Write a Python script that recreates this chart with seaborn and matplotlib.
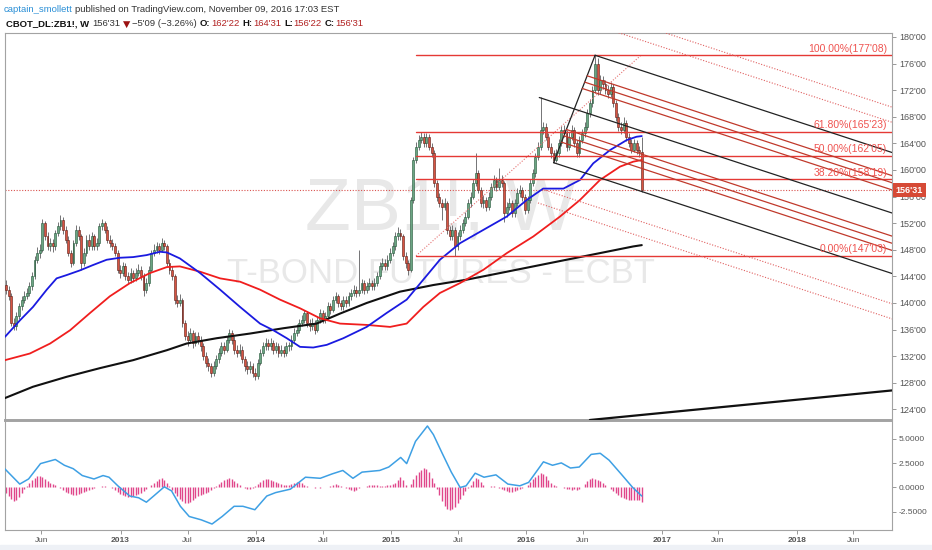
import numpy as np
import pandas as pd
import matplotlib
matplotlib.use("Agg")
import matplotlib.pyplot as plt
import matplotlib.transforms as mtransforms
from matplotlib.patches import Rectangle
import seaborn as sns

sns.set_theme(style="white")
plt.rcParams["font.family"] = ["Liberation Sans", "DejaVu Sans"]

W, H = 932, 550

# ---- weekly bars, CBOT ZB1! ----
last_week = "2016-11-07"
first_open = 142.7
close = [
    142.0, 141.0, 137.0, 136.5, 138.0, 139.5, 140.5, 141.0, 141.5, 142.5,
    144.0, 146.5, 147.5, 148.0, 152.0, 150.0, 148.5, 149.0, 148.5, 150.5,
    151.5, 152.5, 151.0, 149.5, 147.5, 146.0, 149.0, 151.0, 150.0, 146.0,
    147.5, 149.5, 148.5, 150.0, 148.5, 149.0, 151.5, 152.0, 151.0, 149.5,
    149.0, 148.5, 147.5, 145.0, 144.5, 145.5, 144.0, 143.5, 144.5, 143.8,
    144.5, 145.0, 144.0, 142.0, 143.0, 145.0, 147.5, 148.0, 148.5, 148.0,
    149.0, 148.5, 146.0, 145.0, 144.0, 140.5, 140.0, 140.5, 137.0, 135.0,
    134.5, 135.5, 134.0, 135.0, 134.5, 133.5, 132.0, 131.0, 130.5, 129.5,
    130.5, 131.5, 132.5, 133.5, 133.0, 134.5, 135.5, 134.5, 133.0, 132.5,
    133.0, 131.5, 130.5, 130.0, 130.5, 129.5, 129.0, 131.0, 132.5, 133.5,
    134.0, 133.5, 134.0, 133.0, 133.5, 132.5, 133.0, 132.5, 133.5, 133.5,
    134.5, 135.5, 136.0, 137.0, 137.5, 138.5, 137.0, 136.5, 137.0, 136.0,
    137.5, 138.5, 137.5, 138.0, 139.5, 139.0, 140.5, 141.0, 140.0, 139.5,
    140.5, 140.0, 141.0, 141.5, 142.0, 141.5, 142.0, 143.0, 142.0, 142.5,
    143.0, 142.5, 143.0, 144.0, 145.5, 146.0, 145.5, 146.5, 147.5, 148.5,
    150.0, 150.5, 150.0, 147.0, 146.0, 145.0, 155.5, 161.5, 163.5, 164.5,
    165.0, 164.0, 165.0, 163.5, 162.5, 158.0, 156.0, 155.0, 154.5, 155.0,
    151.0, 150.0, 151.0, 148.5, 150.0, 151.0, 152.0, 153.0, 155.0, 156.0,
    158.0, 159.5, 157.0, 155.0, 155.5, 154.5, 156.0, 157.5, 158.5, 157.5,
    158.5, 158.0, 153.5, 154.5, 155.0, 153.5, 155.0, 156.5, 157.0, 156.0,
    154.0, 155.5, 158.0, 159.5, 162.0, 163.5, 166.0, 166.5, 165.0, 163.5,
    162.5, 161.5, 162.5, 164.0, 166.0, 165.5, 163.5, 165.0, 166.0, 164.0,
    162.5, 164.5, 165.5, 166.5, 168.5, 170.0, 172.0, 176.0, 172.0, 173.5,
    173.0, 172.0, 171.5, 172.5, 170.0, 168.0, 166.5, 166.0, 167.0, 165.0,
    164.0, 163.0, 164.0, 163.0, 162.69, 156.97,
]
high = [
    143.4, 142.6, 141.5, 137.8, 138.6, 140.0, 141.0, 141.8, 142.3, 143.2,
    144.6, 147.0, 148.4, 148.8, 152.6, 152.3, 150.6, 149.8, 149.6, 151.0,
    152.2, 153.2, 153.0, 151.6, 150.0, 148.0, 149.5, 151.7, 151.5, 150.4,
    148.2, 150.2, 150.3, 150.6, 150.4, 149.7, 152.0, 152.6, 152.4, 151.5,
    150.2, 149.6, 149.0, 148.0, 145.7, 146.2, 146.0, 144.6, 145.2, 145.0,
    145.3, 145.8, 145.5, 144.5, 143.7, 145.6, 148.0, 148.8, 149.2, 149.0,
    149.7, 149.5, 148.9, 146.6, 145.5, 144.3, 141.2, 141.3, 140.8, 137.5,
    135.8, 136.2, 136.0, 135.7, 135.6, 135.0, 134.0, 132.6, 131.7, 131.0,
    131.2, 132.2, 133.2, 134.2, 134.2, 135.1, 136.1, 136.0, 135.0, 133.7,
    133.8, 133.5, 132.0, 131.2, 131.2, 131.0, 130.2, 131.6, 133.1, 134.2,
    134.8, 134.6, 134.7, 134.5, 134.2, 134.0, 133.7, 133.6, 134.2, 134.2,
    135.2, 136.2, 136.8, 137.6, 138.2, 139.0, 138.8, 137.6, 137.7, 137.4,
    138.1, 139.1, 138.9, 138.7, 140.1, 140.0, 141.1, 141.7, 141.4, 140.5,
    141.1, 141.0, 141.6, 142.1, 142.7, 142.6, 148.0, 143.6, 143.4, 143.2,
    143.7, 143.5, 143.7, 144.7, 146.1, 146.7, 146.6, 147.2, 148.2, 149.2,
    150.6, 151.4, 151.1, 150.4, 147.6, 146.5, 156.0, 162.0, 164.2, 165.2,
    165.7, 165.5, 165.6, 165.4, 164.0, 163.0, 158.5, 156.6, 155.6, 155.8,
    155.4, 151.6, 151.8, 151.4, 150.7, 151.7, 152.7, 153.7, 155.6, 156.7,
    158.6, 162.5, 160.0, 157.5, 156.2, 156.0, 156.7, 158.1, 159.2, 159.0,
    160.3, 159.2, 158.4, 155.2, 155.8, 155.5, 155.7, 157.3, 157.7, 157.5,
    156.4, 156.1, 158.6, 160.2, 162.6, 164.2, 170.9, 167.2, 167.0, 165.5,
    164.0, 163.0, 163.2, 164.6, 166.6, 166.7, 166.0, 165.7, 166.7, 166.4,
    164.5, 165.1, 166.2, 167.2, 169.1, 170.7, 172.6, 177.25, 176.8, 174.3,
    174.2, 173.6, 172.8, 173.2, 173.0, 170.5, 168.6, 167.2, 168.0, 167.5,
    165.5, 164.6, 164.7, 164.5, 163.6, 164.97,
]
low = [
    141.3, 140.5, 136.6, 135.9, 136.0, 137.6, 139.0, 140.0, 140.6, 141.0,
    142.0, 143.6, 146.0, 146.8, 147.6, 149.4, 147.9, 147.8, 147.7, 148.0,
    150.0, 150.9, 150.4, 149.0, 147.0, 145.4, 145.7, 148.6, 149.4, 145.0,
    145.6, 147.0, 148.0, 148.0, 148.0, 147.9, 148.6, 151.0, 150.5, 149.0,
    148.4, 147.9, 147.0, 144.5, 143.8, 144.0, 143.5, 142.9, 143.0, 143.2,
    143.3, 144.0, 143.4, 141.0, 141.5, 142.6, 144.6, 147.0, 147.5, 147.4,
    147.6, 147.9, 145.5, 144.4, 143.4, 139.8, 139.4, 139.5, 136.4, 134.4,
    133.6, 134.0, 133.3, 133.5, 133.8, 132.8, 131.4, 130.3, 129.8, 128.9,
    129.0, 130.0, 131.0, 132.0, 132.4, 132.6, 134.0, 133.9, 132.4, 131.9,
    132.0, 130.9, 129.8, 129.3, 129.5, 128.8, 128.4, 128.6, 130.6, 132.0,
    133.0, 132.9, 133.0, 132.4, 132.5, 131.9, 132.0, 131.9, 132.0, 132.8,
    133.0, 134.0, 135.0, 135.5, 136.5, 137.0, 136.4, 135.8, 136.0, 135.4,
    135.6, 137.0, 137.0, 137.0, 137.6, 138.4, 138.6, 140.0, 139.4, 138.9,
    139.0, 139.4, 139.6, 140.5, 141.0, 140.9, 141.0, 141.5, 141.4, 141.5,
    142.0, 141.9, 142.0, 142.5, 143.6, 145.0, 144.9, 145.0, 146.0, 147.0,
    148.0, 149.5, 149.4, 146.5, 145.3, 144.2, 144.6, 155.0, 161.0, 163.0,
    164.0, 163.4, 163.5, 163.0, 161.9, 157.5, 155.4, 154.4, 152.5, 154.0,
    150.4, 149.5, 149.5, 147.1, 148.0, 149.5, 150.5, 151.5, 152.6, 154.5,
    155.6, 157.6, 156.5, 154.4, 154.3, 153.9, 154.0, 155.5, 157.0, 156.9,
    157.0, 157.4, 152.2, 153.0, 154.0, 152.9, 153.0, 154.6, 156.0, 155.4,
    153.4, 153.6, 155.0, 157.6, 159.0, 161.5, 163.0, 165.4, 164.5, 163.0,
    161.8, 161.1, 161.2, 162.0, 163.6, 164.9, 162.9, 163.0, 164.5, 163.5,
    161.9, 162.0, 164.0, 165.0, 166.0, 168.0, 169.5, 171.6, 171.3, 171.5,
    172.2, 171.4, 170.8, 171.0, 169.4, 167.4, 165.9, 165.4, 165.5, 164.4,
    163.4, 162.6, 162.7, 162.4, 162.0, 156.69,
]

# ---- moving averages (bar index, price) ----
blue_x = [-0.4, 5.4, 10.4, 15.7, 19.5, 23.4, 28.5, 33.5, 38.8, 43.9, 49, 54.2, 59.3, 62,
          67, 74.8, 82.5, 90.2, 97.9, 103, 108.2, 113.3, 118.4, 123.6, 130, 139, 146.7,
          154.4, 160.8, 167.2, 175, 184, 193, 200.7, 207, 214.8, 221.2, 226.3, 232.8,
          239.2, 243, 245]
blue_y = [134.9, 137.4, 139.4, 142.0, 143.7, 144.2, 144.9, 145.7, 146.5, 146.8, 146.9,
          147.2, 147.7, 147.6, 146.7, 144.5, 142.0, 139.4, 136.9, 135.9, 134.7, 133.4,
          133.3, 133.7, 134.7, 136.4, 138.5, 140.5, 143.5, 146.5, 149.0, 151.0, 153.0,
          155.5, 157.2, 157.2, 158.5, 161.0, 163.0, 164.5, 165.0, 165.1]
red_x = [-0.4, 9.2, 17, 24.7, 32.4, 40, 47.8, 55.5, 62, 67, 74.8, 82.5, 90.2, 97.9, 105.6,
         113.3, 121, 128.7, 139, 148, 154.4, 160.8, 167.2, 175, 184, 193, 203.2, 213.5,
         221.2, 228.9, 236.6, 241.7, 245]
red_y = [131.4, 132.4, 133.9, 135.9, 138.5, 141.0, 143.0, 144.5, 145.4, 145.5, 144.7,
         143.7, 143.2, 142.0, 140.5, 139.2, 137.7, 136.9, 136.7, 136.4, 136.9, 139.4,
         141.5, 143.0, 145.0, 147.5, 150.0, 153.0, 155.5, 158.5, 160.5, 161.25, 161.5]
black_x = [-0.4, 10.4, 23.4, 36.2, 49, 62, 69.6, 81.2, 94, 106.9, 119.7, 128.7, 139, 151.8,
           164.7, 177.5, 190.4, 203.2, 216, 228.9, 241.7, 245]
black_y = [125.7, 127.4, 128.9, 130.2, 131.4, 132.9, 133.9, 134.7, 135.4, 136.2, 136.9,
           138.4, 140.0, 141.7, 142.7, 143.5, 144.5, 145.5, 146.5, 147.5, 148.5, 148.7]

# long trendline at the bottom
trend_x = [225, 341.5]
trend_y = [122.4, 126.85]

# ---- drawings ----
fib_start = (158, 147.09)
fib_end = (244.7, 177.25)
fib_levels = [0.0, 0.382, 0.5, 0.618, 1.0]
fib_labels = ["0.00%(147'03)", "38.20%(158'19)", "50.00%(162'05)",
              "61.80%(165'23)", "100.00%(177'08)"]
pf_bar = [205.5, 227.0, 211.0]
pf_price = [170.9, 177.25, 161.1]

# ---- lower pane (MACD) ----
macd_x = [-0.5, 5.3, 8.7, 13.3, 19, 22.5, 25.9, 29.4, 33.9, 37.4, 39.7, 43.1, 47.7, 51.1,
          54.1, 56.9, 61, 63.8, 67.2, 70.6, 75.2, 79.4, 83.3, 87.9, 91.3, 95.9, 100.5,
          103.9, 109.6, 115.4, 121.1, 125.7, 129.8, 133.7, 137.2, 144, 147.5, 152.1,
          154.4, 157.8, 162.4, 164.7, 168.1, 171.6, 175, 177.3, 180.8, 184.2, 188.8,
          193.4, 198, 201.4, 207.1, 210.6, 214, 217.5, 220.9, 225.5, 229, 232.4, 237,
          241.5, 245]
macd_y = [1.92, 0.35, 0.87, 2.44, 2.86, 2.27, 1.92, 1.22, 0.87, 1.22, 1.05, 0.17, -0.87,
          -1.05, -1.5, -0.87, 0.07, -0.35, -1.92, -2.96, -3.3, -3.73, -2.96, -1.92, -1.92,
          -2.27, -0.87, -0.52, -0.17, 1.05, 0.94, 1.39, 1.74, 0.94, 1.57, 1.74, 2.09, 3.07,
          2.44, 4.71, 6.28, 5.4, 3.49, 1.57, 0.0, 0.17, 1.46, 1.05, 1.29, 0.35, 0.17, 0.52,
          2.62, 2.27, 2.51, 1.99, 2.09, 3.38, 3.49, 2.79, 1.39, 0.0, -0.87]
hist = [
    -0.6, -0.9, -1.2, -1.4, -1.3, -1.0, -0.6, -0.2, 0.2, 0.5,
    0.8, 1.0, 1.2, 1.2, 1.1, 0.9, 0.7, 0.5, 0.4, 0.3,
    0.1, -0.1, -0.3, -0.5, -0.6, -0.7, -0.8, -0.8, -0.7, -0.6,
    -0.5, -0.4, -0.3, -0.2, -0.1, 0.05, 0.1, 0.2, 0.15, 0.1,
    0.0, -0.1, -0.3, -0.5, -0.7, -0.8, -0.9, -1.0, -1.0, -0.9,
    -0.8, -0.7, -0.6, -0.4, -0.2, 0.0, 0.3, 0.5, 0.7, 0.9,
    1.0, 0.8, 0.5, 0.2, -0.3, -0.6, -0.9, -1.2, -1.4, -1.6,
    -1.6, -1.5, -1.3, -1.1, -0.9, -0.8, -0.7, -0.6, -0.5, -0.3,
    -0.1, 0.2, 0.4, 0.6, 0.8, 0.9, 1.0, 0.9, 0.7, 0.5,
    0.3, 0.1, -0.1, -0.2, -0.2, -0.1, 0.2, 0.4, 0.6, 0.8,
    0.85, 0.85, 0.8, 0.7, 0.6, 0.5, 0.4, 0.3, 0.3, 0.3,
    0.4, 0.5, 0.6, 0.6, 0.5, 0.3, 0.2, 0.1, 0.0, -0.1,
    0.1, -0.1, 0.0, 0.05, 0.1, 0.2, 0.3, 0.4, 0.3, 0.2,
    0.0, -0.1, -0.2, -0.3, -0.35, -0.3, -0.1, 0.0, 0.1, 0.2,
    0.25, 0.3, 0.3, 0.25, 0.2, 0.2, 0.2, 0.25, 0.3, 0.4,
    0.5, 0.8, 1.1, 0.8, 0.3, 0.1, 0.4, 0.9, 1.3, 1.6,
    1.8, 2.0, 1.9, 1.6, 1.0, 0.5, -0.2, -0.8, -1.4, -1.9,
    -2.2, -2.3, -2.2, -2.0, -1.6, -1.2, -0.8, -0.4, -0.1, 0.3,
    0.7, 1.0, 0.9, 0.6, 0.3, 0.1, 0.1, 0.2, 0.2, 0.1,
    -0.1, -0.2, -0.3, -0.4, -0.45, -0.45, -0.4, -0.3, -0.2, -0.1,
    0.1, 0.3, 0.6, 0.9, 1.1, 1.3, 1.5, 1.4, 1.2, 0.8,
    0.5, 0.3, 0.2, 0.1, 0.0, -0.1, -0.2, -0.2, -0.3, -0.2,
    -0.3, -0.2, 0.1, 0.4, 0.7, 0.9, 1.0, 0.9, 0.8, 0.7,
    0.5, 0.3, 0.1, -0.2, -0.4, -0.6, -0.8, -1.0, -1.1, -1.2,
    -1.3, -1.3, -1.3, -1.3, -1.3, -1.45,
]

tick_dates = ["2012-06-01", "2013-01-01", "2013-07-01", "2014-01-01", "2014-07-01",
              "2015-01-01", "2015-07-01", "2016-01-01", "2016-06-01", "2017-01-01",
              "2017-06-01", "2018-01-01", "2018-06-01"]
tick_text = ["Jun", "2013", "Jul", "2014", "Jul", "2015", "Jul", "2016", "Jun", "2017",
             "Jun", "2018", "Jun"]

# ---- frame ----
n = len(close)
df = pd.DataFrame({"bar": np.arange(n), "close": close, "high": high, "low": low})
df["open"] = df["close"].shift(1).fillna(first_open)
dates = pd.date_range(end=last_week, periods=n, freq="7D")
t0 = dates[0]

UP, DN = "#6ba583", "#d75442"
UP_E, DN_E = "#225437", "#5b1a13"
WICK = "#737375"
GRID = "#a3a3a3"


def rect(l, t, r, b):
    return [l / W, 1 - b / H, (r - l) / W, (b - t) / H]


def px2bar(px):
    return (px - 6) / 2.595


fig = plt.figure(figsize=(W / 100, H / 100), dpi=100, facecolor="white")
ax = fig.add_axes(rect(5, 33, 892, 420))
ax2 = fig.add_axes(rect(5, 421, 892, 530), sharex=ax)
xlim = (px2bar(5), px2bar(892))

# watermark
ax.text(0.4915, 0.491, "ZB1!, W", transform=ax.transAxes, ha="center", va="baseline",
        fontsize=54, color="#e8e8e8", zorder=0)
ax.text(0.4915, 0.354, "T-BOND FUTURES - ECBT", transform=ax.transAxes, ha="center",
        va="baseline", fontsize=25, color="#e8e8e8", zorder=0)

# candles
up = df["close"] >= df["open"]
body_lo = np.minimum(df["open"], df["close"])
body_h = np.maximum((df["close"] - df["open"]).abs(), 0.15)
ax.vlines(df["bar"], df["low"], df["high"], color=WICK, lw=0.7, zorder=3)
ax.bar(df["bar"], body_h, bottom=body_lo, width=0.72,
       color=np.where(up, UP, DN), edgecolor=np.where(up, UP_E, DN_E),
       linewidth=0.4, zorder=3.5)

# moving averages
sns.lineplot(x=black_x, y=black_y, ax=ax, color="#111111", linewidth=1.5, sort=False, zorder=4)
sns.lineplot(x=red_x, y=red_y, ax=ax, color="#f01e1e", linewidth=1.3, sort=False, zorder=4)
sns.lineplot(x=blue_x, y=blue_y, ax=ax, color="#1a1ae0", linewidth=1.3, sort=False, zorder=4)
sns.lineplot(x=trend_x, y=trend_y, ax=ax, color="#111111", linewidth=1.6, sort=False, zorder=4)

# fibonacci retracement
rng = fib_end[1] - fib_start[1]
ax.plot([fib_start[0], fib_end[0]], [fib_start[1], fib_end[1]], color="#e57373",
        lw=0.8, ls=(0, (1, 1.5)), zorder=5)
for lv, lab in zip(fib_levels, fib_labels):
    yv = fib_start[1] + lv * rng
    ax.plot([fib_start[0], xlim[1]], [yv, yv], color="#e53935", lw=1.0, zorder=5)
    ax.text(px2bar(887), yv + 0.25, lab, ha="right", va="bottom", fontsize=7.5,
            color="#ef5350", zorder=6)

# andrews pitchfork
A = np.array([pf_bar[0], pf_price[0]])
B = np.array([pf_bar[1], pf_price[1]])
C = np.array([pf_bar[2], pf_price[2]])
M = (B + C) / 2
d = M - A


def ray(start, x_end=360.0):
    k = (x_end - start[0]) / d[0]
    end = start + k * d
    return [start[0], end[0]], [start[1], end[1]]


ax.plot([C[0], B[0]], [C[1], B[1]], color="#222222", lw=0.9, zorder=5)
ax.plot(*ray(A), color="#222222", lw=0.9, zorder=5)
for s in (1, -1):
    ax.plot(*ray(M + s * (B - M)), color="#222222", lw=0.9, zorder=5)
    for lv in (0.382, 0.5, 0.618):
        ax.plot(*ray(M + s * lv * (B - M)), color="#c0392b", lw=0.9, zorder=5)
    for lv in (1.5, 1.75):
        ax.plot(*ray(M + s * lv * (B - M)), color="#e06060", lw=0.8,
                ls=(0, (1, 1.5)), zorder=5)

# last price line + label
last = close[-1]
ax.axhline(last, color="#d9534f", lw=0.8, ls=(0, (1, 1.5)), zorder=2)
trans = mtransforms.blended_transform_factory(ax.transAxes, ax.transData)
ax.text(1.004, last, "156'31", transform=trans, ha="left", va="center", fontsize=6.5,
        color="white", fontweight="bold", zorder=10, clip_on=False,
        bbox=dict(boxstyle="square,pad=0.3", fc="#d64a36", ec="none"))

ax.set_xlim(*xlim)
ax.set_ylim(122.4, 180.6)
ax.set_yticks(range(124, 181, 4))
ax.set_yticklabels([f"{p}'00" for p in range(124, 181, 4)])
ax.yaxis.tick_right()
ax.tick_params(axis="y", length=3, width=0.6, color="#888888", labelsize=6.5,
               labelcolor="#555555", pad=2)
ax.tick_params(axis="x", bottom=False, labelbottom=False)
ax.set_xlabel("")
ax.set_ylabel("")

# lower pane
ax2.vlines(np.arange(n), 0, hist, color="#e0468a", lw=1.0, zorder=2)
sns.lineplot(x=macd_x, y=macd_y, ax=ax2, color="#3ea0e4", linewidth=1.1, sort=False, zorder=3)
ax2.set_ylim(-4.34, 6.79)
ax2.set_yticks([-2.5, 0, 2.5, 5.0])
ax2.set_yticklabels([f"{v:.4f}" for v in [-2.5, 0, 2.5, 5.0]])
ax2.yaxis.tick_right()
ax2.tick_params(axis="y", length=3, width=0.6, color="#888888", labelsize=6,
                labelcolor="#555555", pad=2)
tick_pos = [(pd.Timestamp(t) - t0).days / 7.0 for t in tick_dates]
ax2.set_xticks(tick_pos)
ax2.set_xticklabels(tick_text)
ax2.tick_params(axis="x", length=3, width=0.6, color="#888888", labelsize=6,
                labelcolor="#555555", pad=2, bottom=True)
for lab in ax2.get_xticklabels():
    if lab.get_text().isdigit():
        lab.set_fontweight("bold")
ax2.set_xlim(*xlim)
ax2.set_xlabel("")
ax2.set_ylabel("")

for a in (ax, ax2):
    a.set_facecolor("white")
    a.grid(False)
    for sp in a.spines.values():
        sp.set_color(GRID)
        sp.set_linewidth(0.8)
ax.spines["bottom"].set_linewidth(1.4)
ax2.spines["top"].set_linewidth(1.4)

fig.patches.append(Rectangle((0, 0), 1, 5 / H, transform=fig.transFigure,
                             color="#eef1f6", zorder=0))

# header
fig.canvas.draw()
renderer = fig.canvas.get_renderer()


def chain(x_px, y_px, pieces):
    x = x_px
    for s, gap, kw in pieces:
        t = fig.text(x / W, 1 - y_px / H, s, ha="left", va="center", **kw)
        x += t.get_window_extent(renderer=renderer).width + gap


DARK = "#333333"
RED = "#b22222"
chain(4, 9, [
    ("captain_smollett", 2.5, dict(fontsize=6.8, color="#2a8fd6")),
    ("published on TradingView.com, November 09, 2016 17:03 EST", 0,
     dict(fontsize=6.8, color=DARK)),
])
bold = dict(fontsize=6.8, color="#111111", fontweight="bold")
reg = dict(fontsize=6.8, color=DARK)
redk = dict(fontsize=6.8, color=RED)
chain(6, 24, [
    ("CBOT_DL:ZB1!, W", 3, bold),
    ("156'31", 3, reg),
    ("\u25bc", 2, dict(fontsize=6.8, color="#9b1111", family=["DejaVu Sans"])),
    ("\u22125'09 (\u22123.26%)", 3, reg),
    ("O:", 0.5, bold), ("162'22", 3, redk),
    ("H:", 0.5, bold), ("164'31", 3, redk),
    ("L:", 0.5, bold), ("156'22", 3, redk),
    ("C:", 0.5, bold), ("156'31", 0, redk),
])

fig.savefig("out.png", dpi=100, facecolor="white")
